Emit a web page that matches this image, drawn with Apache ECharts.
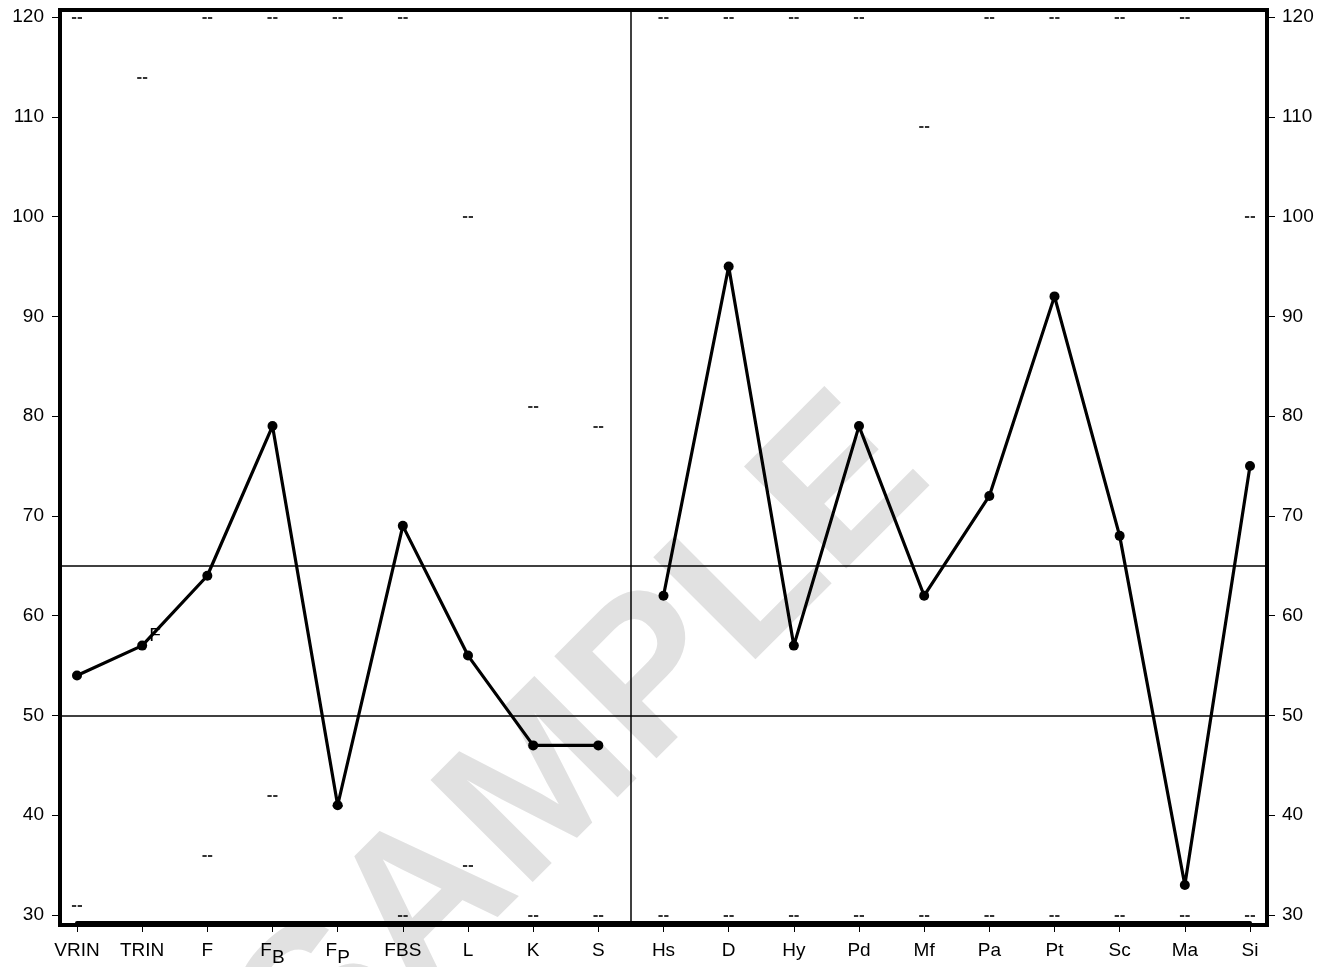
<!DOCTYPE html>
<html>
<head>
<meta charset="utf-8">
<script src="https://cdn.jsdelivr.net/npm/echarts@6/dist/echarts.min.js"></script>
<style>
html,body{margin:0;padding:0;background:#fff;}
#chart{width:1334px;height:967px;}
</style>
</head>
<body>
<div id="chart"></div>
<script>
// ---- data ----
const categories = ['VRIN','TRIN','F','FB','FP','FBS','L','K','S','Hs','D','Hy','Pd','Mf','Pa','Pt','Sc','Ma','Si'];
const validityScores = [54, 57, 64, 79, 41, 69, 56, 47, 47];          // VRIN .. S
const clinicalScores = [62, 95, 57, 79, 62, 72, 92, 68, 33, 75];     // Hs .. Si
const upperDashes = [120, 114, 120, 120, 120, 120, 100, 81, 79, 120, 120, 120, 120, 109, 120, 120, 120, 120, 100];
const lowerDashes = [31, null, 36, 42, 41, 30, 35, 30, 30, 30, 30, 30, 30, 30, 30, 30, 30, 30, 30];
const yTicks = [30, 40, 50, 60, 70, 80, 90, 100, 110, 120];
const referenceLines = [65, 50];

const FONT = "'Liberation Sans', Arial, Helvetica, sans-serif";
const subs = { FB: ['F','B'], FP: ['F','P'] };

const leftData = validityScores.map((v, i) => {
  const item = { value: [i, v] };
  if (categories[i] === 'TRIN') {
    item.label = { show: true, formatter: 'F', position: 'right', offset: [-3, -10],
      color: '#000', fontSize: 19, fontFamily: FONT };
  }
  return item;
});
const rightData = clinicalScores.map((v, i) => [i + validityScores.length, v]);
const dashData = [];
upperDashes.forEach((v, i) => { if (v != null) dashData.push([i, v]); });
lowerDashes.forEach((v, i) => { if (v != null) dashData.push([i, v]); });

const chart = echarts.init(document.getElementById('chart'), null, { renderer: 'canvas' });

const lineStyleCommon = {
  type: 'line',
  xAxisIndex: 0, yAxisIndex: 0,
  symbol: 'circle', symbolSize: 10,
  itemStyle: { color: '#000' },
  lineStyle: { color: '#000', width: 3.2 },
  z: 5,
  animation: false
};

const yAxisCommon = {
  type: 'value', gridIndex: 0,
  min: yTicks[0], max: yTicks[yTicks.length - 1], interval: 10,
  offset: 17,
  axisLine: { show: true, onZero: false, lineStyle: { color: '#000', width: 4 } },
  axisTick: { show: true, length: 8, lineStyle: { color: '#000', width: 1 } },
  splitLine: { show: false }
};

const option = {
  animation: false,
  backgroundColor: '#fff',
  textStyle: { fontFamily: FONT },
  graphic: [{
    type: 'text',
    x: 585, y: 748,
    rotation: 45 * Math.PI / 180,
    z: 0,
    style: {
      text: 'SAMPLE',
      fontSize: 210,
      fontWeight: 'bold',
      fontFamily: FONT,
      fill: '#e1e1e1',
      align: 'center',
      verticalAlign: 'middle'
    }
  }],
  grid: [
    { left: 77, right: 84, top: 17, bottom: 50, show: false },
    { left: 60, right: 67, top: 10, bottom: 42, show: true, borderColor: '#000', borderWidth: 4,
      backgroundColor: 'transparent', z: 6 }
  ],
  xAxis: [{
    type: 'value', gridIndex: 0,
    min: 0, max: categories.length - 1, interval: 1,
    offset: 8,
    axisLine: { show: true, onZero: false, lineStyle: { color: '#000', width: 4 } },
    axisTick: { show: true, length: 9, lineStyle: { color: '#000', width: 1 } },
    splitLine: { show: false },
    axisLabel: {
      margin: 18,
      formatter: v => {
        const name = categories[v];
        if (name === undefined) return '';
        if (subs[name]) return '{n|' + subs[name][0] + '}{s|' + subs[name][1] + '}';
        return '{n|' + name + '}';
      },
      rich: {
        n: { fontSize: 19, color: '#000', fontFamily: FONT, lineHeight: 20, verticalAlign: 'top' },
        s: { fontSize: 19, color: '#000', fontFamily: FONT, lineHeight: 20, verticalAlign: 'top', padding: [7, 0, 0, 0] }
      }
    }
  }],
  yAxis: [
    Object.assign({}, yAxisCommon, { position: 'left',
      axisLabel: { margin: 16, fontSize: 19, color: '#000', fontFamily: FONT } }),
    Object.assign({}, yAxisCommon, { position: 'right',
      axisLabel: { margin: 15, fontSize: 19, color: '#000', fontFamily: FONT } })
  ],
  series: [
    Object.assign({}, lineStyleCommon, {
      name: 'validity',
      data: leftData,
      markLine: {
        silent: true, symbol: 'none', animation: false,
        label: { show: false },
        lineStyle: { color: '#000', width: 1.5, type: 'solid' },
        emphasis: { disabled: true },
        data: referenceLines.map(v => [{ x: 60, yAxis: v }, { x: 1267, yAxis: v }])
          .concat([[{ xAxis: (validityScores.length - 1) + 0.5, y: 10 }, { xAxis: (validityScores.length - 1) + 0.5, y: 925 }]])
      }
    }),
    Object.assign({}, lineStyleCommon, { name: 'clinical', data: rightData }),
    {
      type: 'scatter', name: 'range',
      xAxisIndex: 0, yAxisIndex: 0,
      symbolSize: 1,
      itemStyle: { color: 'rgba(0,0,0,0)' },
      z: 4,
      silent: true,
      label: {
        show: true, position: 'inside', formatter: '--',
        color: '#000', fontSize: 17, fontWeight: 'bold', fontFamily: FONT
      },
      data: dashData
    }
  ]
};
chart.setOption(option);
</script>
</body>
</html>
